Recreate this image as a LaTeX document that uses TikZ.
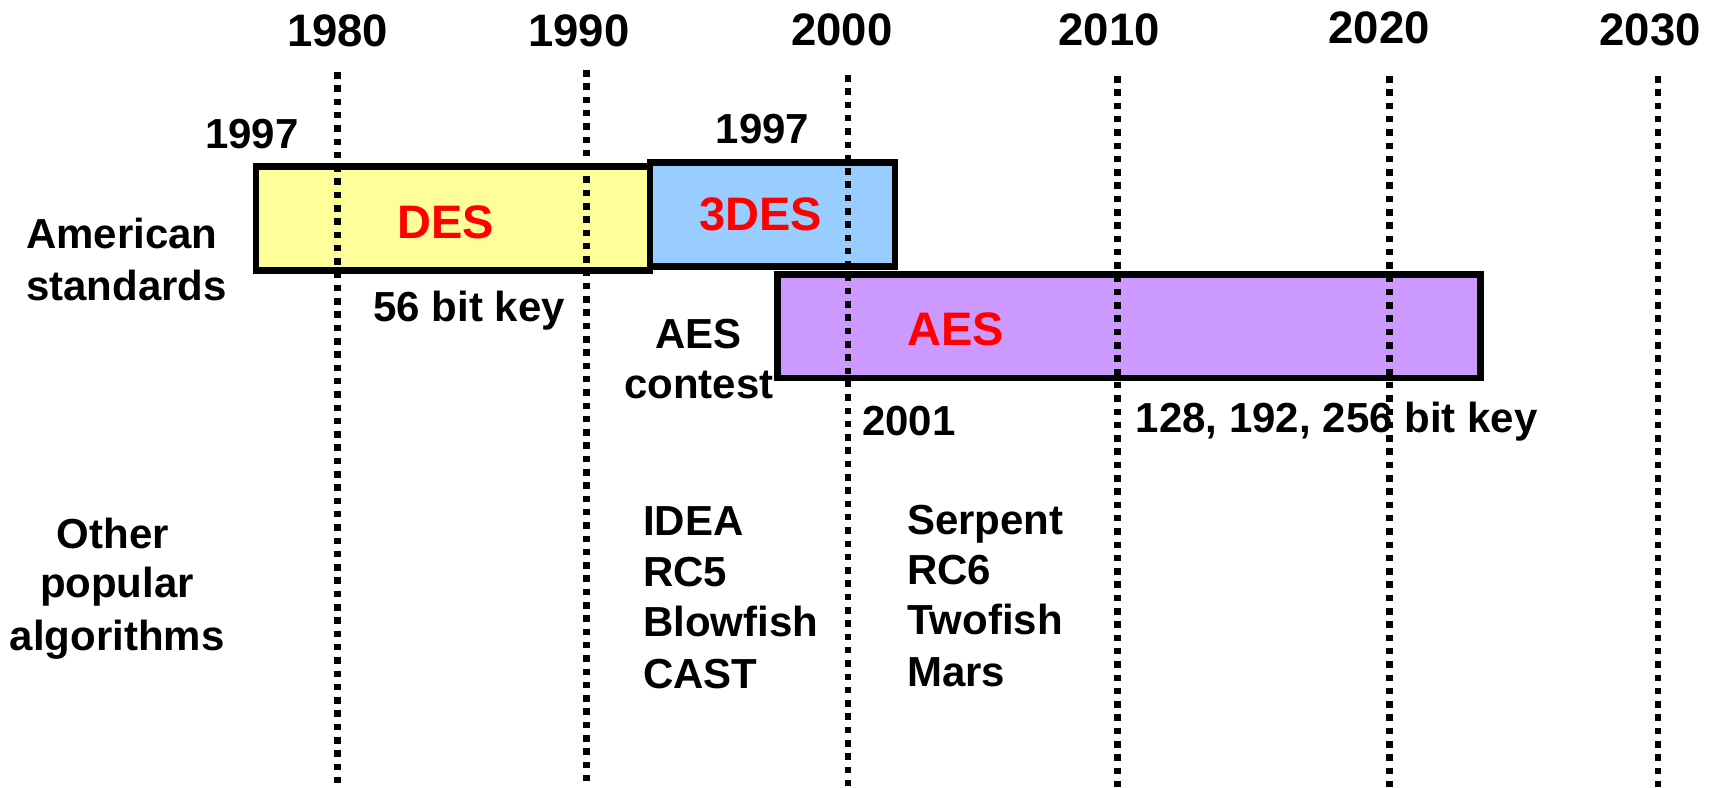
\documentclass[tikz,border=0pt]{standalone}
\usepackage{fontspec}
\setmainfont{Liberation Sans}
\definecolor{desfill}{HTML}{FFFF99}
\definecolor{tdesfill}{HTML}{99CCFF}
\definecolor{aesfill}{HTML}{CC99FF}
\definecolor{algored}{HTML}{FF0000}
\begin{document}
\begin{tikzpicture}[x=1pt,y=-1pt,
  yearlbl/.style={anchor=base, inner sep=0, font=\fontsize{45.5}{50}\selectfont\bfseries},
  txt/.style={inner sep=0, font=\fontsize{42}{51}\selectfont\bfseries},
  algname/.style={inner sep=0, anchor=base, text=algored, font=\fontsize{47}{50}\selectfont\bfseries},
  stdbox/.style={draw=black, line width=6.8pt, inner sep=0, outer sep=0, rectangle},
  gridline/.style={line width=6.5pt, dash pattern=on 6.5pt off 6.8pt}
]
\useasboundingbox (0,0) rectangle (1723,787);

% timeline years
\node[yearlbl] (y1980) at (337.7,46.5) {1980};
\node[yearlbl] (y1990) at (579,46) {1990};
\node[yearlbl] (y2000) at (842,45.7) {2000};
\node[yearlbl] (y2010) at (1109,45.7) {2010};
\node[yearlbl] (y2020) at (1379,43.3) {2020};
\node[yearlbl] (y2030) at (1650,45.7) {2030};

% standard blocks
\node[stdbox, fill=desfill, minimum width=394pt, minimum height=104pt] (desbox) at (453,218.5) {};
\node[stdbox, fill=tdesfill, minimum width=245pt, minimum height=104pt] (tdesbox) at (772.5,214.5) {};
\node[stdbox, fill=aesfill, minimum width=703pt, minimum height=103.3pt] (aesbox) at (1129.2,326.4) {};

\node[algname] (deslbl) at (446,238.3) {DES};
\node[algname] (tdeslbl) at (760.6,230) {3DES};
\node[algname] (aeslbl) at (956,345.7) {AES};

% annotations
\node[txt, anchor=base] (desyear) at (252,148.3) {1997};
\node[txt, anchor=base] (tdesyear) at (762.6,143.3) {1997};
\node[txt, anchor=base west] (amer1) at (26,248.3) {American};
\node[txt, anchor=base west] (amer2) at (26,300) {standards};
\node[txt, anchor=base west] (deskey) at (373.4,321.7) {56 bit key};
\node[txt, anchor=base] (contest1) at (698.7,348.3) {AES};
\node[txt, anchor=base] (contest2) at (698.7,398.3) {contest};
\node[txt, anchor=base west] (aesyear) at (861.8,435) {2001};
\node[txt, anchor=base west] (aeskey) at (1135.7,432) {128, 192, 256 bit key};

% other algorithms
\node[txt, anchor=base] (oth1) at (113,548.3) {Other};
\node[txt, anchor=base] (oth2) at (117,597) {popular};
\node[txt, anchor=base] (oth3) at (117,650) {algorithms};

\node[txt, anchor=base west] (idea) at (643,535) {IDEA};
\node[txt, anchor=base west] (rcfive) at (643,586.7) {RC5};
\node[txt, anchor=base west] (blowfish) at (643,636.7) {Blowfish};
\node[txt, anchor=base west] (cast) at (643,688.3) {CAST};

\node[txt, anchor=base west] (serpent) at (907,534) {Serpent};
\node[txt, anchor=base west] (rcsix) at (907,584.5) {RC6};
\node[txt, anchor=base west] (twofish) at (907,634.5) {Twofish};
\node[txt, anchor=base west] (mars) at (907,686.7) {Mars};

% dotted decade lines
\coordinate (t1980) at (337.7,72);  \coordinate (b1980) at (337.7,787);
\coordinate (t1990) at (586.6,70);  \coordinate (b1990) at (586.6,787);
\coordinate (t2000) at (848,75);    \coordinate (b2000) at (848,787);
\coordinate (t2010) at (1117.4,76); \coordinate (b2010) at (1117.4,787);
\coordinate (t2020) at (1389.5,76); \coordinate (b2020) at (1389.5,787);
\coordinate (t2030) at (1658,76);   \coordinate (b2030) at (1658,787);
\foreach \yr in {1980,1990,2000,2010,2020,2030}
  \draw[gridline] (t\yr) -- (b\yr);
\end{tikzpicture}
\end{document}
